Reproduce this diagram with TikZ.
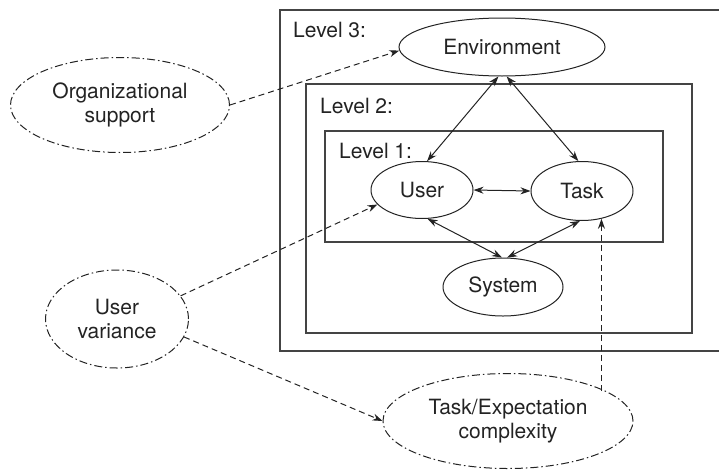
\documentclass[tikz,border=0pt]{standalone}
\usepackage{fontspec}
\setmainfont{TeX Gyre Heros}
\usetikzlibrary{shapes.geometric,arrows.meta}
\definecolor{ink}{RGB}{35,35,35}
\tikzset{
  every node/.style={text=ink, font=\fontsize{21}{24.5}\selectfont},
  inner/.style={ellipse, draw=ink, line width=1pt, inner sep=0pt, align=center},
  outer/.style={ellipse, draw=ink, line width=1pt, inner sep=0pt, align=center,
     dash pattern=on 8pt off 3pt on 1.5pt off 3pt},
  levelbox/.style={draw=ink!85, line width=1.2pt},
  link/.style={draw=ink, line width=1pt, {Stealth[length=10pt,width=7pt]}-{Stealth[length=10pt,width=7pt]}},
  influence/.style={draw=ink, line width=1pt, dash pattern=on 6pt off 4pt, -{Stealth[length=10pt,width=7pt]}},
  lvl/.style={anchor=base west, inner sep=0pt}
}
\begin{document}
\begin{tikzpicture}[x=1pt,y=-1pt]
\useasboundingbox (0,0) rectangle (719,469);
\clip (0,0) rectangle (719,469);
% level boxes
\draw[levelbox] (280,10) rectangle (740,351);
\draw[levelbox] (306,84) rectangle (692,333);
\draw[levelbox] (325,131) rectangle (663,242);
\node[lvl] (l3) at (293,37) {Level 3:};
\node[lvl] (l2) at (320,113) {Level 2:};
\node[lvl] (l1) at (339,158) {Level 1:};
% inner ellipses
\node[inner, minimum width=206pt, minimum height=58pt] (env) at (502,47) {Environment};
\node[inner, minimum width=102pt, minimum height=57pt] (user) at (422,190) {User};
\node[inner, minimum width=102pt, minimum height=59pt] (task) at (582,191) {Task};
\node[inner, minimum width=120pt, minimum height=58pt] (sys) at (503,287) {System};
% outer ellipses
\node[outer, minimum width=219pt, minimum height=95pt] (org) at (120,105) {Organizational\\support};
\node[outer, minimum width=143pt, minimum height=98pt] (uv) at (117,319) {User\\variance};
\node[outer, minimum width=250pt, minimum height=95pt] (te) at (508,421) {Task/Expectation\\complexity};
% links
\draw[link] (env.263) -- (user.80);
\draw[link] (env.279) -- (task.97);
\draw[link] (user.east) -- (task.west);
\draw[link] (user.-79) -- (sys.92);
\draw[link] (task.-94) -- (sys.82);
% influences
\draw[influence] (org.east) -- (env.182);
\draw[influence] (uv.20) -- (user.198);
\draw[influence] (uv.-15) -- (te.180);
\path (task.-55) coordinate (tb);
\draw[influence] (te.17 -| tb) -- (tb);
\end{tikzpicture}
\end{document}
